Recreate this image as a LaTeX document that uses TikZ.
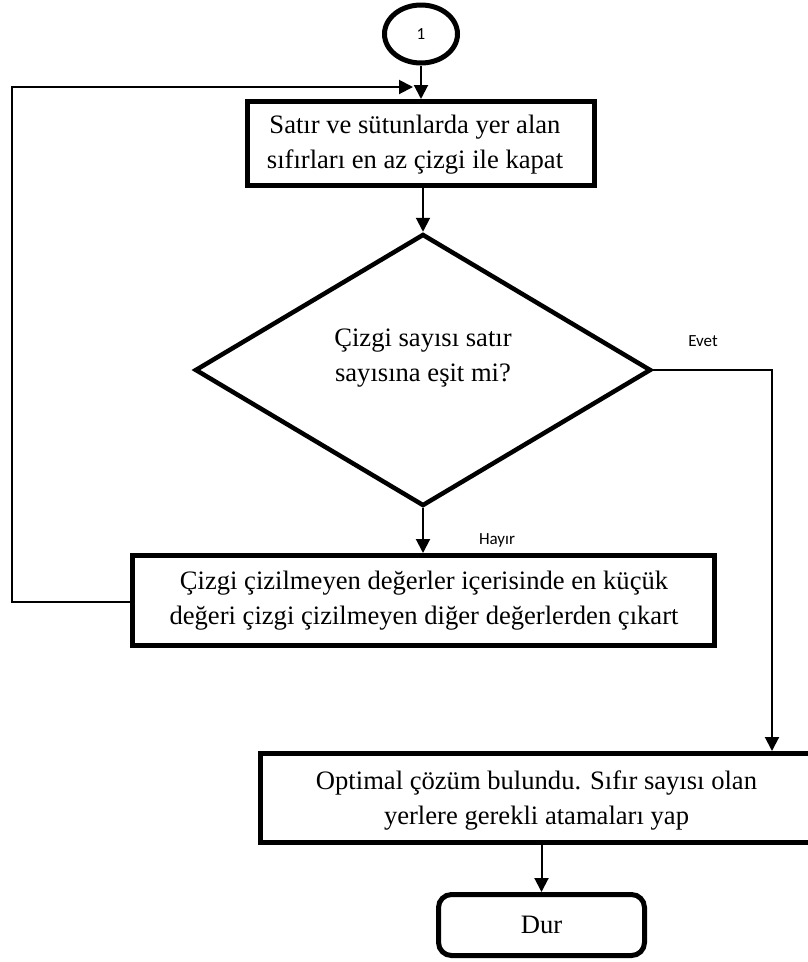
\documentclass[tikz,border=0pt]{standalone}
\usepackage{fontspec}
\setmainfont{Liberation Serif}
\newfontfamily\lblfont{Carlito}
\usetikzlibrary{shapes.geometric,arrows.meta}
\tikzset{
  procbox/.style={draw=black, line width=5pt, rectangle, inner sep=0pt},
  maintext/.style={font=\fontsize{26.6}{35}\selectfont, align=center, inner sep=0pt},
  conn/.style={draw=black, line width=2pt},
  arr/.style={conn, -{Triangle[length=14pt,width=14pt]}},
  lbl/.style={font=\lblfont\fontsize{17}{20}\selectfont, inner sep=0pt},
}
\begin{document}
\begin{tikzpicture}[x=1pt,y=-1pt]
\useasboundingbox (0,0) rectangle (808,962);
\clip (0,0) rectangle (808,962);
\fill[white] (0,0) rectangle (808,962);

% start connector circle
\node[ellipse, draw, line width=5pt, minimum width=73pt, minimum height=58pt, inner sep=0pt,
      font=\lblfont\fontsize{17}{20}\selectfont] (c1) at (421,34) {1};

% box 1
\node[procbox, minimum width=347pt, minimum height=84pt] (b1) at (421,143.5) {};
\node[maintext] (t1) at (415,145) {Satır ve sütunlarda yer alan\\sıfırları en az çizgi ile kapat};

% decision
\node[diamond, draw, line width=4.5pt, minimum width=456pt, minimum height=272pt, inner sep=0pt] (d) at (423,370) {};
\node[maintext] (t2) at (423,358) {Çizgi sayısı satır\\sayısına eşit mi?};

% box 3
\node[procbox, minimum width=582pt, minimum height=90pt] (b3) at (423.5,600.5) {};
\node[maintext] (t3) at (424,601) {Çizgi çizilmeyen değerler içerisinde en küçük\\değeri çizgi çizilmeyen diğer değerlerden çıkart};

% box 4 (runs past the right edge)
\node[procbox, minimum width=552pt, minimum height=89pt] (b4) at (536.5,798) {};
\node[maintext] (t4) at (536.5,800) {Optimal çözüm bulundu. Sıfır sayısı olan\\yerlere gerekli atamaları yap};

% stop
\node[draw, line width=5pt, rounded corners=13pt, minimum width=206pt, minimum height=61pt, inner sep=0pt,
      font=\fontsize{26.6}{35}\selectfont] (dur) at (541.5,925) {Dur};

% labels
\node[lbl] (evet) at (703,341) {Evet};
\node[lbl] (hayir) at (497,540) {Hayır};

% connectors
\draw[arr] (c1.south) -- (c1.south |- b1.north);
\draw[arr] (b1.south -| d.north) -- (d.north);
\draw[arr] (d.south) -- (d.south |- b3.north);

\coordinate (loopL) at (12,602);
\coordinate (loopTL) at (12,87);
\coordinate (loopend) at (413,87);
\draw[arr] (b3.west |- loopL) -- (loopL) -- (loopTL) -- (loopend);

\coordinate (evetcorner) at (772,370);
\draw[arr] (d.east) -- (evetcorner) -- (evetcorner |- b4.north);

\draw[arr] (b4.south -| dur.north) -- (dur.north);
\end{tikzpicture}
\end{document}
